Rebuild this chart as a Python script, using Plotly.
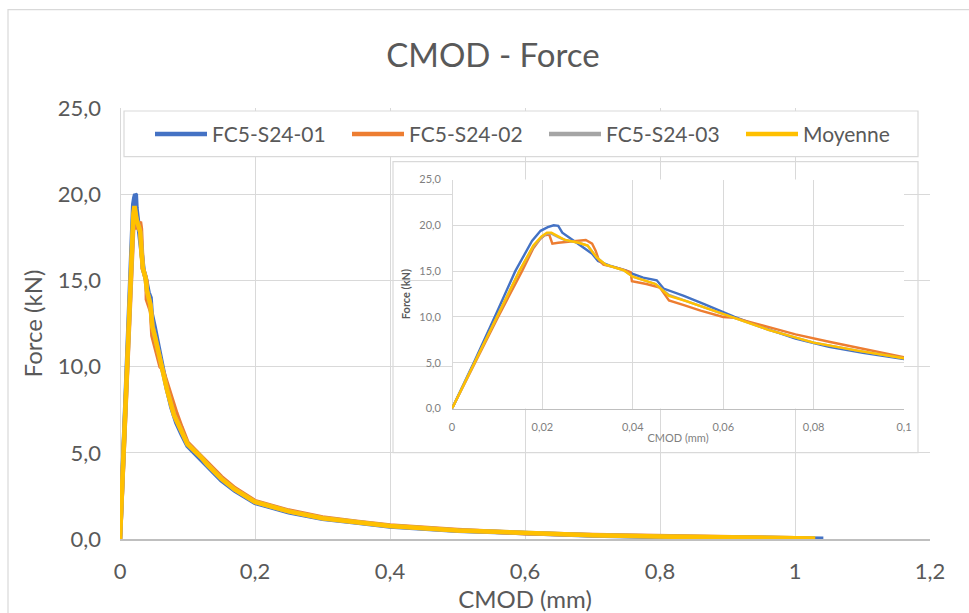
import plotly.graph_objects as go

# ---------------- data ----------------
series_names = ["FC5-S24-01", "FC5-S24-02", "FC5-S24-03", "Moyenne"]
series_colors = ["#4472C4", "#ED7D31", "#A5A5A5", "#FFC000"]

cmod_01 = [0, 0.005, 0.010, 0.014, 0.0177, 0.0196, 0.0212, 0.0225, 0.0235, 0.0244,
           0.0267, 0.0289, 0.031, 0.0323, 0.0349, 0.0386, 0.040, 0.0423, 0.0453, 0.0468,
           0.0513, 0.0558, 0.0599, 0.0625, 0.0685, 0.076, 0.0834, 0.0909, 0.1,
           0.12, 0.13, 0.15, 0.17, 0.2, 0.25, 0.3, 0.35, 0.4, 0.5, 0.6, 0.7, 0.8, 0.9, 1.0, 1.042]
force_01 = [0, 5.2, 10.6, 15.0, 18.3, 19.4, 19.8, 20.0, 19.95, 19.2,
            18.4, 17.6, 16.9, 16.1, 15.6, 15.05, 14.7, 14.3, 14.0, 13.1,
            12.3, 11.4, 10.5, 10.0, 8.9, 7.65, 6.75, 6.1, 5.4,
            4.6, 4.2, 3.4, 2.8, 2.1, 1.55, 1.17, 0.95, 0.73, 0.48, 0.31, 0.2, 0.12, 0.07, 0.03, 0.02]

cmod_02 = [0, 0.005, 0.0102, 0.0155, 0.018, 0.0195, 0.0205, 0.0215, 0.0222, 0.0235,
           0.026, 0.028, 0.0296, 0.031, 0.0318, 0.0325, 0.0335, 0.037, 0.0395, 0.0398,
           0.043, 0.046, 0.048, 0.0513, 0.055, 0.06, 0.0625, 0.0685, 0.076, 0.0834, 0.0909, 0.1,
           0.12, 0.13, 0.15, 0.17, 0.2, 0.25, 0.3, 0.35, 0.4, 0.5, 0.6, 0.7, 0.8, 0.9, 0.95, 1.0]
force_02 = [0, 4.9, 10.0, 15.0, 17.5, 18.5, 18.9, 19.0, 18.0, 18.1,
            18.2, 18.3, 18.4, 18.0, 17.2, 16.2, 15.7, 15.3, 14.9, 13.9,
            13.6, 13.2, 11.8, 11.3, 10.7, 10.0, 9.9, 9.1, 8.1, 7.3, 6.5, 5.6,
            4.8, 4.4, 3.6, 2.95, 2.2, 1.65, 1.25, 1.0, 0.78, 0.52, 0.34, 0.23, 0.15, 0.09, 0.06, 0.04]

cmod_03 = [0, 0.005, 0.010, 0.0149, 0.018, 0.0198, 0.021, 0.022, 0.0235, 0.025,
           0.028, 0.030, 0.032, 0.034, 0.038, 0.040, 0.045, 0.048, 0.052, 0.056,
           0.06, 0.0625, 0.07, 0.08, 0.09, 0.1,
           0.12, 0.13, 0.15, 0.17, 0.2, 0.25, 0.3, 0.35, 0.4, 0.5, 0.6, 0.7, 0.8, 0.9, 1.0, 1.025]
force_03 = [0, 5.0, 10.0, 15.0, 17.7, 18.7, 19.1, 19.1, 18.7, 18.4,
            18.1, 17.8, 16.5, 15.7, 15.1, 14.4, 13.6, 12.4, 11.7, 11.0,
            10.3, 9.9, 8.6, 7.2, 6.3, 5.5,
            4.75, 4.3, 3.5, 2.87, 2.15, 1.6, 1.2, 0.97, 0.75, 0.5, 0.33, 0.22, 0.14, 0.08, 0.04, 0.03]

cmod_moy = [0, 0.005, 0.010, 0.0149, 0.018, 0.0198, 0.021, 0.022, 0.0235, 0.025,
            0.028, 0.030, 0.032, 0.034, 0.038, 0.040, 0.045, 0.048, 0.052, 0.056,
            0.06, 0.0625, 0.07, 0.08, 0.09, 0.1,
            0.12, 0.13, 0.15, 0.17, 0.2, 0.25, 0.3, 0.35, 0.4, 0.5, 0.6, 0.7, 0.8, 0.9, 1.0, 1.03]
force_moy = [0, 5.0, 10.0, 15.0, 17.8, 18.8, 19.2, 19.2, 18.8, 18.4,
             18.1, 17.8, 16.5, 15.7, 15.1, 14.4, 13.6, 12.3, 11.7, 11.0,
             10.3, 9.9, 8.6, 7.2, 6.3, 5.5,
             4.75, 4.3, 3.5, 2.87, 2.15, 1.6, 1.2, 0.97, 0.75, 0.5, 0.33, 0.22, 0.14, 0.08, 0.04, 0.03]

all_x = [cmod_01, cmod_02, cmod_03, cmod_moy]
all_y = [force_01, force_02, force_03, force_moy]

title_text = "CMOD - Force"
x_title = "CMOD (mm)"
y_title = "Force (kN)"

# ---------------- figure ----------------
FONT = "Lato, Carlito, Calibri, sans-serif"
TXT = "#595959"
GRID = "#D9D9D9"

W, H = 969, 613
ML, MR, MT, MB = 120, 39, 108, 71
PW, PH = W - ML - MR, H - MT - MB


def px_x(p):  # pixel -> paper x
    return (p - ML) / PW


def px_y(p):  # pixel -> paper y
    return (H - MB - p) / PH


fig = go.Figure()

for name, col, xs, ys in zip(series_names, series_colors, all_x, all_y):
    fig.add_trace(go.Scatter(x=xs, y=ys, mode="lines", name=name,
                             line=dict(color=col, width=4.5),
                             xaxis="x", yaxis="y"))
for name, col, xs, ys in zip(series_names, series_colors, all_x, all_y):
    fig.add_trace(go.Scatter(x=xs, y=ys, mode="lines", name=name, showlegend=False,
                             line=dict(color=col, width=2.4),
                             xaxis="x2", yaxis="y2"))

shapes = [
    # outer chart border
    dict(type="rect", xref="paper", yref="paper",
         x0=px_x(8), x1=px_x(990), y0=px_y(640), y1=px_y(9),
         line=dict(color=GRID, width=1.2), fillcolor="rgba(0,0,0,0)", layer="below"),
    # legend box
    dict(type="rect", xref="paper", yref="paper",
         x0=px_x(124), x1=px_x(918), y0=px_y(157), y1=px_y(111),
         line=dict(color=GRID, width=1.2), fillcolor="white", layer="above"),
    # inset picture box
    dict(type="rect", xref="x", yref="y",
         x0=px_x(393) * 1.2, x1=px_x(918) * 1.2, y0=px_y(455) * 25, y1=px_y(162) * 25,
         line=dict(color=GRID, width=1.2), fillcolor="white", layer="below"),
]

fig.update_layout(
    width=W, height=H,
    margin=dict(l=ML, r=MR, t=MT, b=MB),
    paper_bgcolor="white", plot_bgcolor="white",
    separators=", ",
    font=dict(family=FONT, color=TXT),
    title=dict(text=title_text, x=px_x(493), xref="paper", xanchor="center",
               y=1 - 55 / H, yref="container", yanchor="middle",
               font=dict(size=33, color=TXT, family=FONT)),
    showlegend=True,
    legend=dict(orientation="h", x=px_x(150), y=px_y(114), xanchor="left", yanchor="top",
                bgcolor="rgba(0,0,0,0)", borderwidth=0,
                entrywidth=130, entrywidthmode="pixels", itemwidth=52,
                font=dict(size=21, color=TXT, family=FONT), tracegroupgap=0),
    xaxis=dict(range=[0, 1.2], dtick=0.2, tick0=0, showgrid=True, gridcolor=GRID, gridwidth=1,
               zeroline=True, zerolinecolor=GRID, zerolinewidth=1,
               showline=True, linecolor="#BFBFBF", linewidth=1.5,
               ticks="", ticklabelstandoff=12,
               tickfont=dict(size=22, color=TXT, family=FONT),
               title=dict(text=x_title, standoff=0, font=dict(size=24, color=TXT, family=FONT)),
               domain=[0, 1], anchor="y"),
    yaxis=dict(range=[0, 25], dtick=5, tick0=0, tickformat=".1f", showgrid=True,
               gridcolor=GRID, gridwidth=1, zeroline=False, showline=False,
               ticks="", ticklabelstandoff=18,
               tickfont=dict(size=22, color=TXT, family=FONT),
               title=dict(text=y_title, standoff=8, font=dict(size=24, color=TXT, family=FONT)),
               domain=[0, 1], anchor="x"),
    xaxis2=dict(range=[0, 0.1], dtick=0.02, tick0=0, showgrid=True, gridcolor=GRID, gridwidth=1,
                zeroline=True, zerolinecolor=GRID, zerolinewidth=1,
                showline=True, linecolor="#BFBFBF", linewidth=1,
                ticks="", ticklabelstandoff=8,
                tickfont=dict(size=11, color="#7F7F7F", family=FONT),
                title=dict(text=x_title, standoff=2, font=dict(size=11, color="#7F7F7F", family=FONT)),
                domain=[px_x(452), px_x(904)], anchor="y2"),
    yaxis2=dict(range=[0, 25], dtick=5, tick0=0, tickformat=".1f", showgrid=True,
                gridcolor=GRID, gridwidth=1, zeroline=False, showline=False,
                ticks="", ticklabelstandoff=10,
                tickfont=dict(size=11, color="#7F7F7F", family=FONT),
                title=dict(text="<b>" + y_title + "</b>", standoff=6,
                           font=dict(size=11, color=TXT, family=FONT)),
                domain=[px_y(410.7), px_y(180)], anchor="x2"),
    shapes=shapes,
)

fig.write_html("out.html", config={"displayModeBar": False},
               post_script="document.body.style.margin='0';")
